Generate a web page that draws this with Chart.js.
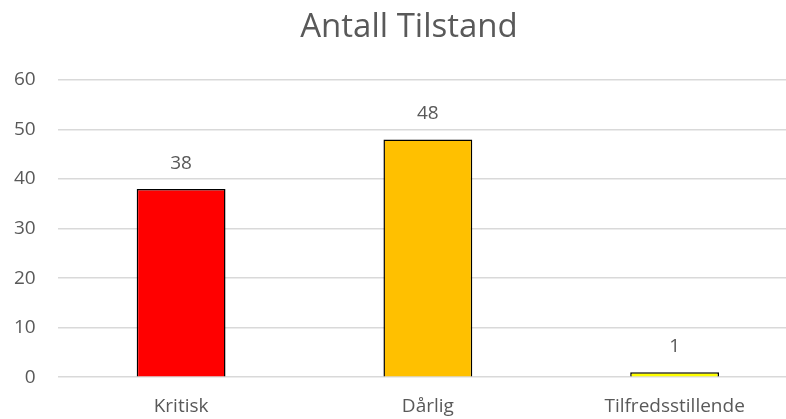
<!DOCTYPE html>
<html>
<head>
<meta charset="utf-8">
<script src="https://cdn.jsdelivr.net/npm/chart.js@4"></script>
<style>
  html, body { margin: 0; padding: 0; background: #fff; overflow: hidden; }
  #wrap { width: 800px; height: 419px; position: relative; }
</style>
</head>
<body>
<div id="wrap"><canvas id="myChart"></canvas></div>
<script>
// Chart data
var chartTitle = 'Antall Tilstand';
var categories = ['Kritisk', 'Dårlig', 'Tilfredsstillende'];
var counts = [38, 48, 1];
var barColors = ['#FF0000', '#FFC000', '#FFFF00'];

var textColor = '#595959';
var fontFamily = "'Open Sans', 'Liberation Sans', sans-serif";

// Draws the title and the value above each bar
const valueLabels = {
  id: 'valueLabels',
  afterDatasetsDraw(chart) {
    const ctx = chart.ctx;
    ctx.save();
    ctx.fillStyle = textColor;
    ctx.textAlign = 'center';

    // title, a bit right of centre like the original
    ctx.font = `33px ${fontFamily}`;
    ctx.textBaseline = 'middle';
    ctx.fillText(chartTitle, chart.width / 2 + 9, 28);

    ctx.font = `19px ${fontFamily}`;
    ctx.textBaseline = 'bottom';
    chart.getDatasetMeta(0).data.forEach((bar, i) => {
      ctx.fillText(counts[i], bar.x, bar.y - 16);
    });
    ctx.restore();
  }
};

const ctx = document.getElementById('myChart');
var myChart = new Chart(ctx, {
  type: 'bar',
  data: {
    labels: categories,
    datasets: [{
      data: counts,
      backgroundColor: barColors,
      borderColor: '#000000',
      borderWidth: 1.5,
      categoryPercentage: 1,
      barPercentage: 0.36,
    }]
  },
  plugins: [valueLabels],
  options: {
    responsive: true,
    maintainAspectRatio: false,
    animation: false,
    layout: {
      padding: { left: -8, right: 2, top: 80, bottom: -17 }
    },
    scales: {
      x: {
        grid: { display: false, drawTicks: false },
        border: { display: false },
        ticks: {
          color: textColor,
          font: { family: fontFamily, size: 19 },
          padding: 18,
        }
      },
      y: {
        min: 0,
        max: 60,
        grid: { color: '#d9d9d9', lineWidth: 1.5, drawTicks: false },
        border: { display: false },
        ticks: {
          stepSize: 10,
          color: textColor,
          font: { family: fontFamily, size: 19 },
          padding: 22,
        }
      }
    },
    plugins: {
      legend: { display: false },
      tooltip: { enabled: false },
      title: { display: false }
    }
  }
});
</script>
</body>
</html>
